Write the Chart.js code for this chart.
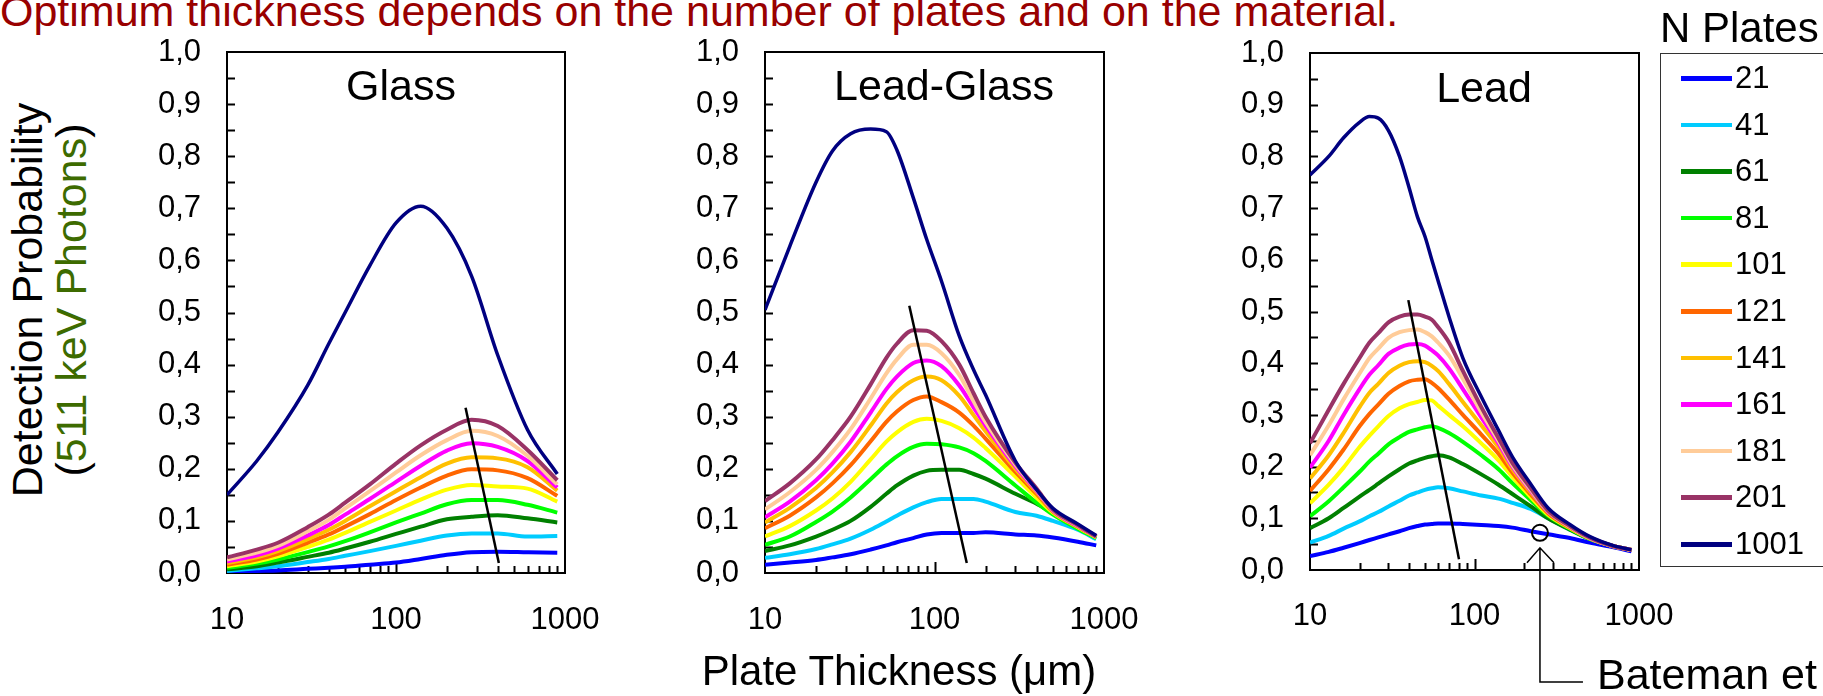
<!DOCTYPE html>
<html>
<head>
<meta charset="utf-8">
<title>Detection probability vs plate thickness</title>
<script src="https://cdn.jsdelivr.net/npm/chart.js@4.4.1/dist/chart.umd.min.js"></script>
<style>
  body { margin: 0; background: #fff; width: 1823px; height: 696px; overflow: hidden; position: relative;
         font-family: "Liberation Sans", Arial, sans-serif; }
  .abs { position: absolute; white-space: nowrap; line-height: 1; }
  canvas { position: absolute; top: 0; }
  #legend { position: absolute; left: 1660px; top: 53px; width: 220px; height: 512px;
            border: 1.5px solid #333; background: #fff; }
  .entry { position: absolute; left: 0; height: 32px; }
  .swatch { position: absolute; left: 20px; top: 14px; width: 51px; height: 4.5px; }
  .lbl { position: absolute; left: 74px; top: 0; font-size: 31px; line-height: 32px; }
</style>
</head>
<body>

<div class="abs" style="left:0;top:-10px;font-size:43px;color:#990000">Optimum thickness depends on the number of plates and on the material.</div>

<div class="abs" style="left:27px;top:300px;font-size:43px;transform:translate(-50%,-50%) rotate(-90deg)">Detection Probability</div>
<div class="abs" style="left:71px;top:300px;font-size:43px;transform:translate(-50%,-50%) rotate(-90deg)">(<span style="color:#3d6b00">511 keV Photons</span>)</div>

<canvas id="glassChart" width="505" height="696" style="left:120px"></canvas>
<canvas id="leadGlassChart" width="504" height="696" style="left:660px"></canvas>
<canvas id="leadChart" width="499" height="696" style="left:1200px"></canvas>

<div class="abs" style="left:401px;top:64px;font-size:43px;transform:translateX(-50%)">Glass</div>
<div class="abs" style="left:944px;top:64px;font-size:43px;transform:translateX(-50%)">Lead-Glass</div>
<div class="abs" style="left:1484px;top:66px;font-size:43px;transform:translateX(-50%)">Lead</div>

<div class="abs" style="left:899px;top:650px;font-size:42px;transform:translateX(-50%)">Plate Thickness (&mu;m)</div>

<div class="abs" style="left:1660px;top:7px;font-size:42px">N Plates</div>
<div id="legend"></div>

<div class="abs" style="left:1597px;top:653px;font-size:43px">Bateman et al.</div>

<script>
// N plates and line colours
const plates = ['21', '41', '61', '81', '101', '121', '141', '161', '181', '201', '1001'];
const colors = ['#0000ff', '#00ccff', '#008000', '#00ff00', '#ffff00', '#ff6600',
                '#ffc000', '#ff00ff', '#ffcc99', '#993366', '#000080'];

// axis ticks
const xLabelTicks = [10, 100, 1000];
const xTickMarks = [20, 30, 40, 50, 60, 70, 80, 90, 100, 200, 300, 400, 500, 600, 700, 800, 900];
const yTickMarks = [0.05, 0.1, 0.15, 0.2, 0.25, 0.3, 0.35, 0.4, 0.45, 0.5,
                    0.55, 0.6, 0.65, 0.7, 0.75, 0.8, 0.85, 0.9, 0.95];

// Glass
const glassX = [10, 15, 20, 30, 40, 50, 70, 100, 140, 200, 280, 400, 600, 900];
const glass21   = [.002, .004, .005, .008, .010, .012, .016, .020, .027, .035, .040, .041, .040, .039];
const glass41   = [.004, .009, .013, .021, .027, .033, .042, .052, .062, .072, .076, .076, .070, .071];
const glass61   = [.007, .013, .020, .031, .039, .047, .060, .075, .089, .103, .108, .111, .105, .097];
const glass81   = [.010, .018, .026, .040, .051, .061, .078, .097, .114, .132, .140, .140, .131, .116];
const glass101  = [.013, .022, .032, .050, .064, .077, .098, .120, .141, .160, .169, .166, .162, .137];
const glass121  = [.016, .026, .037, .058, .074, .089, .113, .140, .164, .187, .199, .197, .182, .148];
const glass141  = [.019, .030, .042, .065, .083, .100, .128, .157, .184, .210, .222, .220, .203, .158];
const glass161  = [.022, .034, .047, .072, .092, .112, .142, .175, .206, .235, .249, .242, .215, .164];
const glass181  = [.026, .039, .052, .080, .102, .124, .157, .193, .226, .255, .273, .263, .225, .170];
const glass201  = [.030, .045, .058, .088, .112, .135, .170, .210, .245, .275, .294, .282, .236, .178];
const glass1001 = [.150, .215, .270, .360, .440, .500, .590, .672, .704, .662, .570, .418, .275, .190];
const glassOptX = [258, 406];
const glassOptY = [0.317, 0.019];

// Lead-Glass
const leadGlassX = [10, 14, 20, 25, 32, 42, 52, 60, 75, 90, 110, 140, 170, 200, 300, 400, 500, 700, 900];
const leadGlass21   = [.016, .020, .025, .030, .036, .045, .053, .059, .067, .074, .077, .077, .077, .078, .074, .072, .068, .060, .053];
const leadGlass41   = [.029, .036, .046, .055, .066, .083, .099, .110, .126, .136, .142, .142, .142, .137, .117, .110, .100, .083, .065];
const leadGlass61   = [.042, .053, .070, .083, .100, .127, .152, .168, .187, .196, .198, .198, .190, .181, .152, .133, .115, .090, .068];
const leadGlass81   = [.054, .070, .098, .118, .145, .180, .208, .224, .242, .248, .247, .241, .230, .215, .168, .135, .112, .085, .067];
const leadGlass101  = [.070, .090, .120, .143, .175, .218, .252, .270, .290, .296, .292, .278, .260, .240, .185, .145, .116, .088, .068];
const leadGlass121  = [.086, .110, .145, .172, .207, .253, .290, .310, .332, .339, .328, .308, .283, .258, .194, .152, .118, .089, .069];
const leadGlass141  = [.097, .125, .163, .193, .232, .283, .325, .347, .370, .377, .370, .340, .303, .272, .200, .155, .119, .090, .069];
const leadGlass161  = [.107, .137, .178, .210, .252, .308, .353, .377, .403, .408, .397, .360, .318, .283, .205, .158, .120, .090, .070];
const leadGlass181  = [.122, .155, .198, .232, .276, .335, .383, .410, .438, .438, .422, .380, .330, .290, .208, .160, .121, .091, .070];
const leadGlass201  = [.138, .172, .218, .255, .300, .362, .413, .440, .466, .465, .445, .400, .345, .300, .212, .162, .122, .092, .070];
const leadGlass1001 = [.505, .627, .750, .810, .843, .852, .847, .812, .720, .640, .560, .455, .390, .342, .215, .160, .124, .094, .072];
const leadGlassOptX = [71, 155];
const leadGlassOptY = [0.513, 0.019];

// Lead
const leadX = [10, 13, 16, 20, 23, 26, 30, 35, 40, 45, 50, 55, 60, 70, 85, 110, 140, 170, 220, 280, 380, 500, 700, 900];
const lead21   = [.027, .035, .043, .052, .058, .063, .069, .075, .081, .085, .088, .089, .090, .090, .089, .087, .085, .082, .075, .069, .062, .053, .044, .036];
const lead41   = [.053, .066, .080, .094, .104, .112, .123, .134, .144, .150, .155, .158, .160, .158, .152, .144, .138, .130, .118, .100, .078, .060, .046, .039];
const lead61   = [.081, .100, .120, .142, .155, .167, .181, .195, .206, .212, .217, .220, .222, .218, .205, .185, .165, .147, .123, .100, .078, .060, .046, .039];
const lead81   = [.104, .133, .160, .190, .210, .225, .243, .257, .267, .272, .276, .278, .275, .265, .248, .222, .195, .168, .135, .105, .080, .061, .046, .039];
const lead101  = [.129, .165, .198, .238, .260, .278, .298, .313, .321, .325, .329, .328, .318, .300, .278, .245, .212, .180, .141, .107, .081, .061, .046, .039];
const lead121  = [.153, .195, .233, .278, .302, .320, .341, .356, .365, .368, .369, .362, .352, .330, .300, .262, .225, .188, .146, .110, .082, .062, .046, .039];
const lead141  = [.177, .222, .265, .315, .343, .360, .381, .395, .402, .404, .402, .395, .385, .360, .325, .280, .237, .195, .150, .112, .083, .062, .046, .039];
const lead161  = [.198, .250, .300, .350, .378, .396, .418, .430, .436, .437, .434, .425, .415, .390, .350, .295, .245, .200, .153, .113, .084, .062, .046, .039];
const lead181  = [.222, .280, .330, .380, .410, .428, .449, .460, .464, .465, .460, .452, .440, .415, .370, .305, .250, .203, .155, .114, .084, .062, .046, .039];
const lead201  = [.245, .310, .360, .410, .440, .458, .479, .490, .494, .494, .490, .484, .470, .440, .385, .315, .255, .207, .158, .115, .085, .063, .046, .039];
const lead1001 = [.764, .800, .836, .866, .877, .874, .850, .800, .740, .683, .645, .600, .560, .490, .410, .335, .270, .219, .166, .120, .088, .065, .047, .039];
const leadOptX = [39.6, 80.5];
const leadOptY = [0.522, 0.021];

// Bateman et al. point
const batemanX = [250];
const batemanY = [0.072];

const glassSeries = [glass21, glass41, glass61, glass81, glass101, glass121, glass141, glass161, glass181, glass201, glass1001];
const leadGlassSeries = [leadGlass21, leadGlass41, leadGlass61, leadGlass81, leadGlass101, leadGlass121,
                         leadGlass141, leadGlass161, leadGlass181, leadGlass201, leadGlass1001];
const leadSeries = [lead21, lead41, lead61, lead81, lead101, lead121, lead141, lead161, lead181, lead201, lead1001];

Chart.defaults.font.family = '"Liberation Sans", Arial, sans-serif';
Chart.defaults.color = '#000';

// box round the plot area with inward ticks
const framePlugin = {
    id: 'frame',
    beforeDatasetsDraw(chart) {
        const { ctx, chartArea: a, scales: { x, y } } = chart;
        ctx.save();
        ctx.strokeStyle = '#000';
        ctx.lineWidth = 2;
        ctx.strokeRect(a.left, a.top, a.right - a.left, a.bottom - a.top);
        ctx.beginPath();
        yTickMarks.forEach(v => {
            const py = Math.round(y.getPixelForValue(v)) + 0.5;
            ctx.moveTo(a.left, py);
            ctx.lineTo(a.left + 8, py);
        });
        xTickMarks.forEach(v => {
            const px = Math.round(x.getPixelForValue(v)) + 0.5;
            ctx.moveTo(px, a.bottom);
            ctx.lineTo(px, a.bottom - (v === 100 ? 11 : 7));
        });
        ctx.stroke();
        ctx.restore();
    }
};

// arrow and bracket pointing at the Bateman point
const batemanPlugin = {
    id: 'bateman',
    afterDraw(chart) {
        if (!chart.options.plugins.bateman) return;
        const { ctx, scales: { x, y } } = chart;
        const px = x.getPixelForValue(batemanX[0]);
        const py = y.getPixelForValue(batemanY[0]);
        ctx.save();
        ctx.strokeStyle = '#000';
        ctx.lineWidth = 1.5;
        ctx.beginPath();
        ctx.moveTo(px - 13, py + 30);
        ctx.lineTo(px, py + 15);
        ctx.lineTo(px + 14, py + 30);
        ctx.moveTo(px, py + 15);
        ctx.lineTo(px, 682);
        ctx.lineTo(px + 43, 682);
        ctx.stroke();
        ctx.restore();
    }
};

function buildDatasets(xs, series, optX, optY, withPoint) {
    const ds = [{
        data: optX.map((v, i) => ({ x: v, y: optY[i] })),
        borderColor: '#000',
        borderWidth: 2.5,
        tension: 0
    }];
    if (withPoint) {
        ds.push({
            data: batemanX.map((v, i) => ({ x: v, y: batemanY[i] })),
            showLine: false,
            pointRadius: 8,
            pointBorderWidth: 2,
            pointBorderColor: '#000',
            pointBackgroundColor: 'rgba(0,0,0,0)'
        });
    }
    for (let i = series.length - 1; i >= 0; i--) {
        ds.push({
            data: xs.map((v, j) => ({ x: v, y: series[i][j] })),
            borderColor: colors[i],
            borderWidth: i === series.length - 1 ? 3.5 : 4,
            cubicInterpolationMode: 'monotone'
        });
    }
    return ds;
}

function renderPanel(id, xs, series, optX, optY, box, withPoint) {
    const ctx = document.getElementById(id).getContext('2d');
    return new Chart(ctx, {
        type: 'line',
        data: { datasets: buildDatasets(xs, series, optX, optY, withPoint) },
        options: {
            responsive: false,
            animation: false,
            events: [],
            elements: { point: { radius: 0 } },
            layout: { padding: { left: 0, top: box.top, right: 60, bottom: 0 } },
            plugins: { legend: { display: false }, tooltip: { enabled: false }, bateman: withPoint },
            scales: {
                x: {
                    type: 'logarithmic',
                    min: 10,
                    max: 1000,
                    grid: { display: false },
                    border: { display: false },
                    afterBuildTicks: s => { s.ticks = xLabelTicks.map(v => ({ value: v })); },
                    afterFit: s => { s.height = box.xHeight; },
                    ticks: {
                        autoSkip: false,
                        maxRotation: 0,
                        padding: box.xPad,
                        font: { size: 31 },
                        callback: v => String(v)
                    }
                },
                y: {
                    min: 0,
                    max: 1,
                    grid: { display: false },
                    border: { display: false },
                    afterFit: s => { s.width = box.yWidth; },
                    ticks: {
                        stepSize: 0.1,
                        padding: 18,
                        font: { size: 31 },
                        callback: v => v.toFixed(1).replace('.', ',')
                    }
                }
            }
        },
        plugins: [framePlugin, batemanPlugin]
    });
}

renderPanel('glassChart', glassX, glassSeries, glassOptX, glassOptY,
    { top: 52, xHeight: 123, yWidth: 107, xPad: 21 }, false);
renderPanel('leadGlassChart', leadGlassX, leadGlassSeries, leadGlassOptX, leadGlassOptY,
    { top: 52, xHeight: 123, yWidth: 105, xPad: 21 }, false);
renderPanel('leadChart', leadX, leadSeries, leadOptX, leadOptY,
    { top: 53, xHeight: 126, yWidth: 110, xPad: 20 }, true);

// legend entries
const legend = document.getElementById('legend');
plates.forEach((p, i) => {
    const item = document.createElement('div');
    item.className = 'entry';
    item.style.top = (8 + i * 46.6) + 'px';
    item.innerHTML = `<div class="swatch" style="background:${colors[i]}"></div><div class="lbl">${p}</div>`;
    legend.appendChild(item);
});
</script>
</body>
</html>
